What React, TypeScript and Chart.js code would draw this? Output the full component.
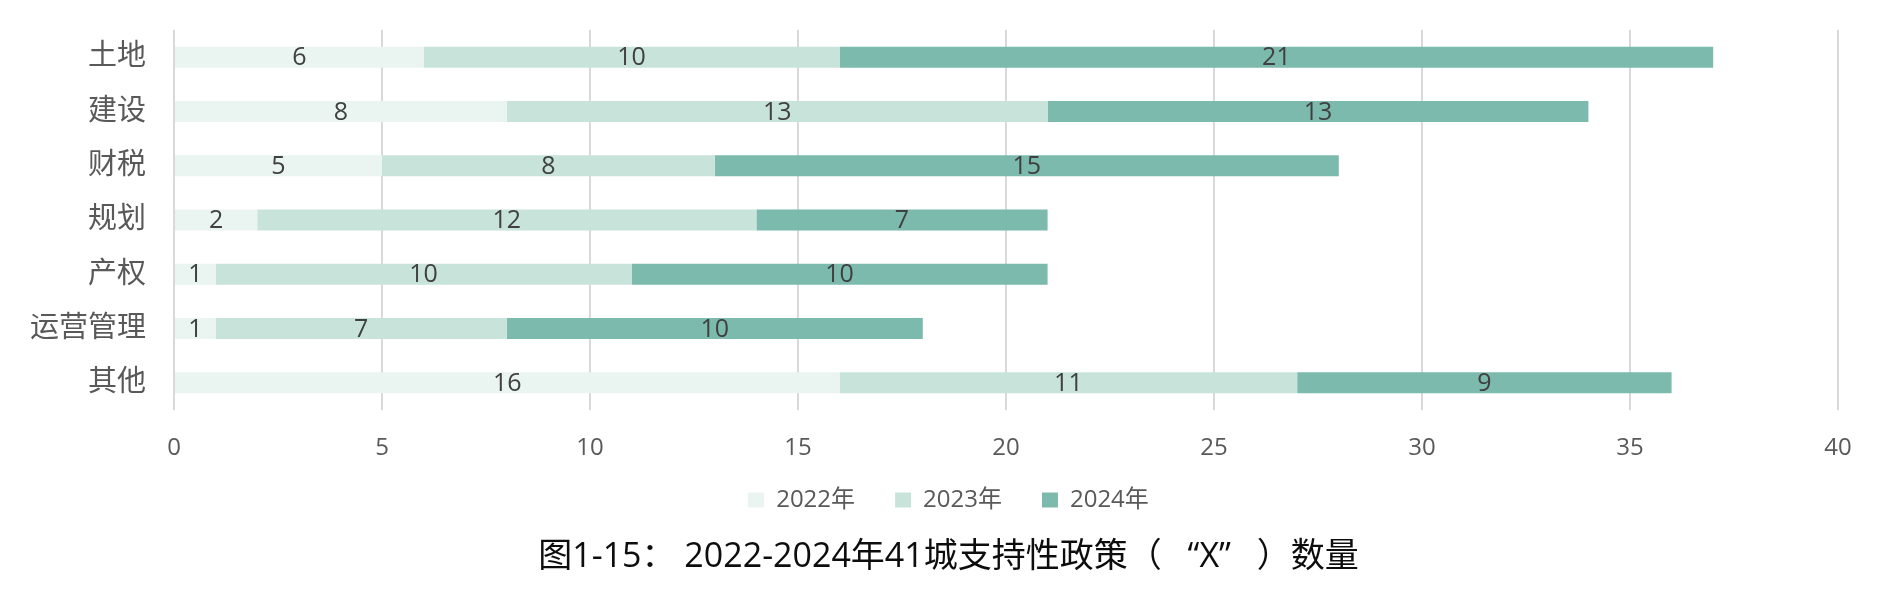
import React, { useEffect, useRef } from "react";
import { Chart, registerables } from "chart.js";

Chart.register(...registerables);

const categories = ["土地", "建设", "财税", "规划", "产权", "运营管理", "其他"];
const seriesNames = ["2022年", "2023年", "2024年"];
const values2022 = [6, 8, 5, 2, 1, 1, 16];
const values2023 = [10, 13, 8, 12, 10, 7, 11];
const values2024 = [21, 13, 15, 7, 10, 10, 9];
const seriesColors = ["#EAF4F1", "#C8E4DA", "#7CBAAD"];
const xTicks = [0, 5, 10, 15, 20, 25, 30, 35, 40];
const titleText = "图1-15： 2022-2024年41城支持性政策（ \u2002“X”\u2002 ）数量";

const FONT = '"Open Sans", "Noto Sans CJK SC", sans-serif';

const dataLabelPlugin = {
  id: "dataLabels",
  afterDatasetsDraw(chart: any) {
    const ctx = chart.ctx;
    ctx.save();
    ctx.font = `25px ${FONT}`;
    ctx.fillStyle = "#404040";
    ctx.textAlign = "center";
    ctx.textBaseline = "middle";
    chart.data.datasets.forEach((ds: any, di: number) => {
      const meta = chart.getDatasetMeta(di);
      meta.data.forEach((el: any, i: number) => {
        const p = el.getProps(["x", "y", "base"], true);
        const cx = (p.x + p.base) / 2;
        ctx.fillText(String(ds.data[i]), cx, p.y + 1);
      });
    });
    ctx.restore();
  },
};

// let the x-axis tick labels overflow their (deliberately short) box without clipping
const xLabelRoomPlugin = {
  id: "xLabelRoom",
  afterLayout(chart: any) {
    const sx = chart.scales.x;
    if (sx) sx.bottom += 30;
  },
};

export default function App() {
  const ref = useRef<HTMLCanvasElement | null>(null);
  useEffect(() => {
    if (!ref.current) return;
    const chart = new Chart(ref.current, {
      type: "bar",
      data: {
        labels: categories,
        datasets: [values2022, values2023, values2024].map((d, i) => ({
          label: seriesNames[i],
          data: d,
          backgroundColor: seriesColors[i],
          borderWidth: 0,
          categoryPercentage: 1,
          barPercentage: 0.387,
        })),
      },
      options: {
        indexAxis: "y",
        responsive: false,
        animation: false,
        layout: { padding: { top: 30, bottom: 0, left: 0, right: 0 } },
        scales: {
          x: {
            stacked: true,
            min: 0,
            max: 40,
            afterBuildTicks: (s: any) => {
              s.ticks = xTicks.map((v) => ({ value: v }));
            },
            afterFit: (s: any) => {
              s.height = 38;
              s.paddingLeft = 0;
              s.paddingRight = 0;
            },
            grid: { color: "#D9D9D9", lineWidth: 2, drawTicks: false },
            border: { display: false },
            ticks: {
              padding: 24,
              color: "#595959",
              font: { size: 24, family: FONT },
            },
          },
          y: {
            stacked: true,
            afterFit: (s: any) => {
              s.width = 174;
              s.paddingTop = 0;
              s.paddingBottom = 0;
            },
            grid: { display: false, drawTicks: false },
            border: { display: false },
            ticks: {
              padding: 28,
              color: "#595959",
              font: { size: 29, family: FONT },
            },
          },
          yRight: {
            type: "linear",
            position: "right",
            display: true,
            afterFit: (s: any) => {
              s.width = 59;
              s.paddingTop = 0;
              s.paddingBottom = 0;
            },
            grid: { display: false, drawTicks: false },
            border: { display: false },
            ticks: { display: false },
          },
        },
        plugins: {
          tooltip: { enabled: false },
          legend: {
            position: "bottom",
            labels: {
              boxWidth: 16,
              boxHeight: 15,
              padding: 40,
              color: "#595959",
              font: { size: 24, family: FONT },
            },
          },
          title: {
            display: true,
            position: "bottom",
            text: titleText,
            color: "#0D0D0D",
            font: { size: 34, weight: "normal", family: FONT },
            padding: { top: 14.6, bottom: 18.6 },
          },
        },
      } as any,
      plugins: [dataLabelPlugin, xLabelRoomPlugin],
    });
    return () => chart.destroy();
  }, []);
  return (
    <div style={{ position: "fixed", left: 0, top: 0, width: 1897, height: 596, background: "#fff" }}>
      <canvas ref={ref} width={1897} height={596} />
    </div>
  );
}
